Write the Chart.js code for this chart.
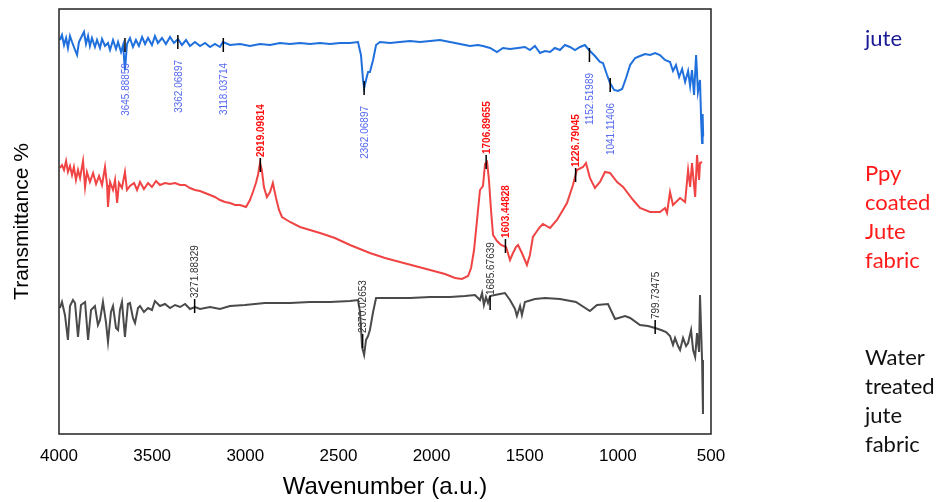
<!DOCTYPE html>
<html>
<head>
<meta charset="utf-8">
<script src="https://cdn.jsdelivr.net/npm/chart.js@4"></script>
<style>
  body { margin: 0; background: #fff; }
  #wrap { position: relative; width: 937px; height: 502px; }
  .side { position: absolute; left: 865px; font-family: Lato, "Noto Sans", sans-serif; font-size: 22px; line-height: 29px; }
</style>
</head>
<body>
<div id="wrap">
  <canvas id="ftir"></canvas>
  <div class="side" style="top:23px;color:#1a1a96">jute</div>
  <div class="side" style="top:158px;color:#ff1a1a">Ppy<br>coated<br>Jute<br>fabric</div>
  <div class="side" style="top:342px;color:#111">Water<br>treated<br>jute<br>fabric</div>
</div>
<script>
// wavenumbers (cm-1) and transmittance readings (arbitrary offset scale)
const juteWave = [3995,3984,3973,3962,3952,3941,3930,3920,3903,3893,3877,3866,3855,3844,3834,3823,3807,3796,3780,3769,3753,3737,3726,3710,3694,3683,3667,3656,3646,3635,3619,3603,3587,3571,3554,3538,3522,3501,3485,3469,3447,3426,3404,3383,3361,3340,3318,3297,3270,3243,3216,3189,3163,3136,3120,3082,3028,2975,2921,2867,2814,2760,2706,2653,2599,2545,2492,2438,2395,2379,2368,2362,2352,2341,2331,2314,2298,2277,2223,2170,2116,2062,2008,1955,1901,1847,1794,1751,1724,1686,1649,1617,1579,1536,1499,1472,1445,1418,1391,1364,1338,1311,1284,1257,1230,1203,1177,1155,1123,1096,1080,1058,1042,1020,999,977,956,934,907,881,854,827,800,774,747,720,704,688,671,655,639,623,612,602,591,580,570,559,553,548,545,542];
const juteT = [78.8,79.8,77.8,79.2,77.2,79.6,78.4,77.4,75.8,78.4,79.6,80.4,78,79.6,77.6,79.2,77.4,78.8,77.2,79,77.6,78.2,76.8,78.8,77,78.4,76.4,77.8,72.8,78,79.2,77.4,78.8,77.6,79.4,78,79.2,77.8,79.6,78.2,79.2,78,79.4,78.2,79,77.8,78.8,77.6,78.4,77.6,78.2,77.4,78,77.4,78.4,77.8,78,77.6,78,77.8,78.2,78,78.2,78,78.2,78,78.2,78.2,78.4,75.8,70.8,69.2,70.8,72.4,72.4,74.8,77.8,78.4,78.2,78.4,78.6,78.4,78.6,78.8,78.4,78,77.6,77.8,77.6,77.2,76.4,77.2,77,77.2,77.4,76.8,77.6,76.2,76.6,76.4,77.2,76.8,77.8,77.4,76.8,77.4,77.8,76.8,75.6,74.4,74.2,71.8,70.2,68.8,68.6,69,71.2,73.8,75.2,75.6,76,75.8,76.2,75.8,74.8,74.4,72.6,73.8,71.4,73,70.4,72.6,69.6,72.8,67.8,75.8,68.4,70.8,62.8,58.2,64,59.5];

const ppyWave = [3995,3984,3973,3962,3952,3941,3930,3920,3909,3898,3887,3871,3860,3850,3834,3817,3801,3785,3769,3753,3742,3737,3726,3710,3699,3688,3678,3662,3646,3635,3619,3597,3581,3565,3544,3522,3501,3479,3458,3431,3404,3377,3350,3323,3297,3270,3243,3216,3189,3163,3136,3109,3082,3055,3028,2996,2975,2959,2943,2932,2921,2911,2900,2884,2867,2852,2835,2819,2803,2760,2706,2653,2599,2519,2438,2331,2250,2170,2089,2008,1928,1874,1837,1804,1788,1772,1756,1740,1724,1713,1702,1692,1681,1670,1649,1627,1600,1579,1563,1547,1536,1515,1488,1472,1456,1434,1418,1402,1364,1327,1311,1273,1241,1220,1187,1171,1150,1123,1096,1069,1042,1004,972,918,881,827,774,747,736,720,704,666,639,623,612,602,585,575,564,559,548];
const ppyT = [53.2,53.8,52.8,54.6,52.4,53.6,51.8,53.4,50.8,52.8,51.2,54.6,49.4,52.4,50.4,52.2,50,51.6,49.8,53.4,49.8,45.4,50.4,48.8,50.8,46.2,50.2,49.2,52.4,48.8,49.6,50.2,48.8,50.4,49,50.2,49.4,50.6,49.8,50.2,50,50.2,49.8,49.8,49.2,48.8,48.6,48.2,47.8,47.4,46.8,46.4,46.2,45.8,45.8,45.4,46.8,48.4,50.2,51.8,54.2,52.8,49.4,47.4,48.4,50.2,47.2,44.8,43.4,42.4,41.4,40.8,40.2,39.2,37.8,36.2,35.2,34.4,33.6,32.8,32,31.2,31,31.6,33.2,36.8,42.8,48.8,49.6,54,54.4,50.8,44.8,39.8,38.6,37.8,37.4,34.8,36.2,37.4,37.8,36.2,33.8,35.8,39.4,40.6,41.4,42,41.2,42.8,43.8,46.2,49.8,52.8,53.4,54.2,51.2,49.2,50.4,52.4,52.2,50.4,49.4,46.8,45.2,44.4,44.4,45.2,44.2,48.4,45.8,47.2,46.4,52.8,49.4,54.2,47.4,55.8,50.8,54.2,54.4];

const waterWave = [3995,3984,3968,3952,3941,3925,3914,3898,3882,3860,3844,3828,3807,3791,3780,3764,3748,3737,3721,3710,3694,3683,3673,3662,3646,3630,3619,3603,3592,3576,3565,3544,3522,3501,3485,3458,3431,3404,3377,3350,3323,3297,3270,3243,3189,3136,3082,3002,2895,2760,2653,2545,2438,2395,2384,2373,2362,2352,2341,2331,2314,2298,2223,2116,2008,1901,1821,1767,1740,1729,1719,1708,1697,1686,1660,1633,1606,1579,1552,1542,1525,1515,1499,1445,1391,1311,1225,1150,1112,1053,1015,961,934,881,838,800,768,741,720,704,693,677,666,650,634,623,607,596,585,575,564,559,548,543];
const waterT = [25.2,26.4,23.8,18.8,25.6,26.8,26.2,19.4,25.8,26.4,18.8,24.8,25.6,21.8,22.8,26.4,22.4,18.4,24.4,25.6,21.2,20.8,24.8,26.4,19.4,26,26.2,23.2,22.2,25.2,25.6,24.4,25.2,24.8,26.6,25.6,26,25.2,25.8,25.4,26,25,25.4,25,25.4,25,25.6,25.8,26.2,26.2,26.4,26.4,26.6,26.8,24.4,17.4,15.8,18.8,19.6,20.8,24.4,27.2,27.2,27.2,27.4,27.4,27.6,27.8,26.8,28.2,25.8,27.4,26.2,27.6,27.8,28,28.2,26.8,25,23.6,25.6,23.8,26.4,27,27.2,27,26.4,24.6,25.8,26,23,23.6,23.2,21.8,21.6,21.2,20.8,20.4,19.6,17.8,19.2,17.6,16.8,19.2,17.6,18.2,20.8,16.8,15.4,20.2,16.4,27.8,14.8,4];

// marked peaks: wavenumber and transmittance at the marker
const jutePeakWave = [3645.88859, 3362.06897, 3118.03714, 2362.06897, 1152.51989, 1041.11406];
const jutePeakT = [77.8, 78.4, 77.8, 69.2, 75.8, 69.8];
const ppyPeakWave = [2919.09814, 1706.89655, 1603.44828, 1226.79045];
const ppyPeakT = [53.8, 54.4, 37.6, 51.8];
const waterPeakWave = [3271.88329, 2370.02653, 1685.67639, 799.73475];
const waterPeakT = [25.6, 18.6, 26.2, 21.4];

const xTicks = [4000, 3500, 3000, 2500, 2000, 1500, 1000, 500];

function pts(w, t) {
  return w.map((v, i) => ({ x: v, y: t[i] }));
}

const peakGroups = [
  { waves: jutePeakWave, vals: jutePeakT, color: "#5468f0", bold: false, below: true },
  { waves: ppyPeakWave, vals: ppyPeakT, color: "#ff1010", bold: true, below: false },
  { waves: waterPeakWave, vals: waterPeakT, color: "#333333", bold: false, below: false },
];

const frameAndPeaks = {
  id: "frameAndPeaks",
  afterDatasetsDraw(chart) {
    const { ctx, chartArea: a, scales } = chart;
    ctx.save();
    peakGroups.forEach((g) => {
      g.waves.forEach((w, i) => {
        const px = scales.x.getPixelForValue(w);
        const py = scales.y.getPixelForValue(g.vals[i]);
        ctx.strokeStyle = "#000";
        ctx.lineWidth = 1.5;
        ctx.beginPath();
        ctx.moveTo(px, py - 7);
        ctx.lineTo(px, py + 7);
        ctx.stroke();
        ctx.save();
        ctx.fillStyle = g.color;
        ctx.font = (g.bold ? "bold " : "") + "10px 'Liberation Sans', Arial, sans-serif";
        ctx.textBaseline = "middle";
        if (g.below) {
          ctx.translate(px + 1, py + 18);
          ctx.rotate(-Math.PI / 2);
          ctx.textAlign = "right";
        } else {
          ctx.translate(px + 1, py - 8);
          ctx.rotate(-Math.PI / 2);
          ctx.textAlign = "left";
        }
        ctx.fillText(w.toFixed(5), 0, 0);
        ctx.restore();
      });
    });
    ctx.strokeStyle = "#222";
    ctx.lineWidth = 1.5;
    ctx.strokeRect(a.left, a.top, a.right - a.left, a.bottom - a.top);
    ctx.restore();
  },
};

new Chart(document.getElementById("ftir"), {
  type: "line",
  data: {
    datasets: [
      { label: "jute", data: pts(juteWave, juteT), borderColor: "#1f6fdc" },
      { label: "Ppy coated Jute fabric", data: pts(ppyWave, ppyT), borderColor: "#f04444" },
      { label: "Water treated jute fabric", data: pts(waterWave, waterT), borderColor: "#4a4a4a" },
    ],
  },
  options: {
    responsive: true,
    maintainAspectRatio: false,
    animation: false,
    layout: { padding: { top: 9, right: 226, left: 0, bottom: 0 } },
    elements: { point: { radius: 0 }, line: { borderWidth: 2, tension: 0 } },
    plugins: { legend: { display: false }, tooltip: { enabled: false } },
    scales: {
      x: {
        type: "linear",
        min: 500,
        max: 4000,
        reverse: true,
        grid: { display: false, drawTicks: false },
        border: { display: false },
        afterBuildTicks: (s) => { s.ticks = xTicks.map((v) => ({ value: v })); },
        afterFit: (s) => { s.height = 68; },
        ticks: {
          color: "#000",
          padding: 12,
          font: { family: "'Liberation Sans', Arial", size: 17 },
          callback: (v) => String(v),
        },
        title: {
          display: true,
          text: "Wavenumber (a.u.)",
          color: "#000",
          padding: { top: 0, bottom: 0 },
          font: { family: "'Liberation Sans', Arial", size: 24 },
        },
      },
      y: {
        min: 0,
        max: 85,
        grid: { display: false, drawTicks: false },
        border: { display: false },
        ticks: { display: false },
        afterFit: (s) => { s.width = 59; },
        title: {
          display: true,
          text: "Transmittance %",
          color: "#000",
          padding: { top: 10, bottom: 4 },
          font: { family: "'Liberation Sans', Arial", size: 21 },
        },
      },
    },
  },
  plugins: [frameAndPeaks],
});
</script>
</body>
</html>
